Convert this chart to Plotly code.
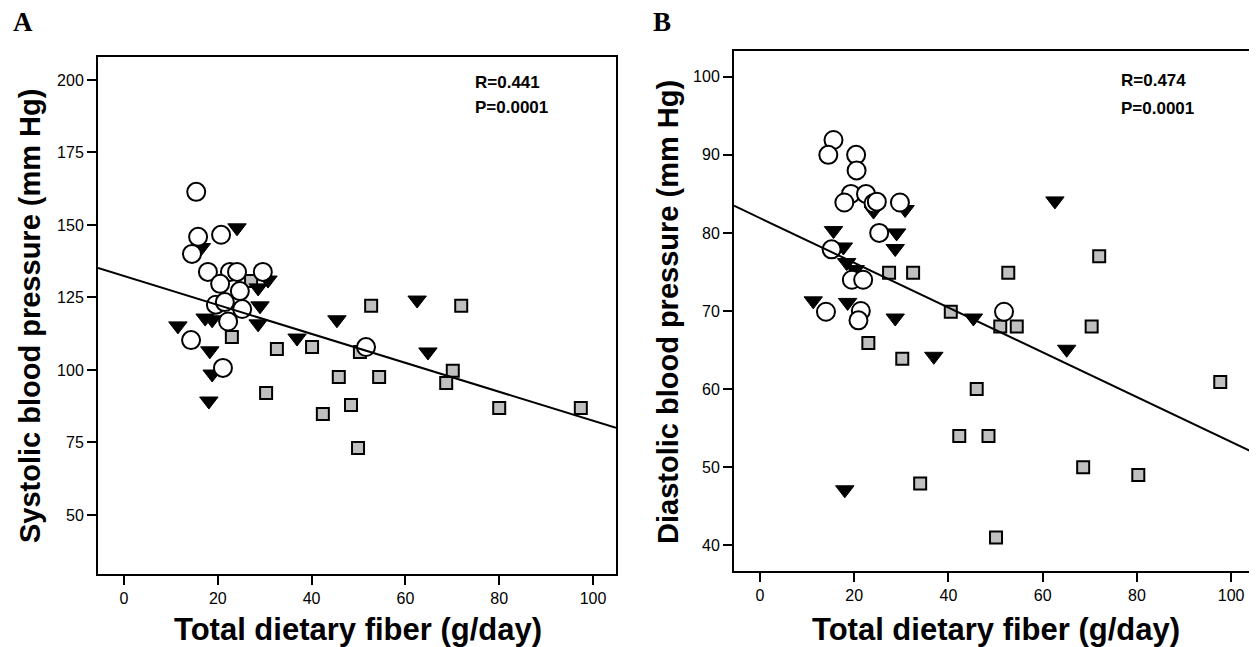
import plotly.graph_objects as go

# ---------------- data ----------------
# Panel A: systolic BP vs total dietary fiber
circles_A_x = [15.4, 15.8, 20.7, 14.5, 17.9, 22.6, 24.1, 29.6, 20.5, 24.7, 19.6, 21.5, 25.2, 22.2, 14.3, 21.1, 51.6]
circles_A_y = [161.4, 145.9, 146.6, 140.0, 133.8, 133.8, 133.8, 133.8, 129.7, 127.2, 122.5, 123.4, 121.0, 116.7, 110.3, 100.7, 107.9]
triangles_A_x = [24.1, 30.7, 28.6, 29.0, 28.6, 17.3, 18.8, 11.5, 18.3, 18.8, 18.1, 36.9, 45.4, 62.5, 64.8, 16.5]
triangles_A_y = [149.0, 131.0, 128.3, 122.1, 115.9, 117.9, 117.3, 115.2, 106.6, 98.6, 89.3, 111.0, 117.3, 124.1, 106.2, 142.2]
squares_A_x = [27.1, 23.0, 32.6, 40.1, 30.3, 52.7, 71.9, 50.3, 70.1, 68.7, 45.8, 54.4, 48.4, 42.4, 80.0, 97.4, 49.9]
squares_A_y = [130.7, 111.4, 107.2, 107.9, 92.1, 122.1, 122.1, 106.2, 99.7, 95.5, 97.6, 97.6, 87.9, 84.8, 86.9, 86.9, 73.1]
fit_A = {"intercept": 132.4, "slope": -0.499}

# Panel B: diastolic BP vs total dietary fiber
circles_B_x = [15.6, 14.5, 20.4, 20.5, 19.3, 22.5, 17.9, 24.1, 24.8, 29.7, 25.3, 15.2, 19.5, 21.9, 14.0, 21.4, 20.9, 51.8]
circles_B_y = [91.9, 90.0, 90.0, 88.0, 85.0, 85.0, 83.9, 83.8, 84.0, 83.9, 80.0, 77.9, 74.0, 74.0, 69.9, 70.0, 68.8, 69.9]
triangles_B_x = [24.1, 30.8, 15.6, 29.0, 28.7, 17.7, 18.4, 20.2, 11.3, 18.6, 28.7, 36.9, 18.0, 62.6, 45.3, 65.1]
triangles_B_y = [82.8, 83.0, 80.3, 80.0, 78.0, 78.2, 76.2, 75.3, 71.3, 71.1, 69.1, 64.2, 47.1, 84.1, 69.1, 65.1]
squares_B_x = [27.4, 32.5, 40.5, 23.0, 30.2, 34.0, 72.0, 52.7, 51.0, 54.5, 70.4, 97.7, 46.0, 42.3, 48.5, 68.6, 80.3, 50.1]
squares_B_y = [74.9, 74.9, 69.9, 65.9, 63.9, 47.9, 77.0, 74.9, 68.0, 68.0, 68.0, 60.9, 60.0, 54.0, 54.0, 50.0, 49.0, 41.0]
fit_B = {"intercept": 81.9, "slope": -0.2865}

x_ticks = [0, 20, 40, 60, 80, 100]
yA_ticks = [50, 75, 100, 125, 150, 175, 200]
yB_ticks = [40, 50, 60, 70, 80, 90, 100]
stats_A = ["R=0.441", "P=0.0001"]
stats_B = ["R=0.474", "P=0.0001"]
x_title = "Total dietary fiber (g/day)"
yA_title = "Systolic blood pressure (mm Hg)"
yB_title = "Diastolic blood pressure (mm Hg)"

# ---------------- layout helpers ----------------
OFF = 8  # page body margin
W, H = 1257 - OFF, 647 - OFF
def px_x(p):
    return (p - OFF) / W
def px_y(p):
    return 1 - (p - OFF) / H

xA_range = [-5.54, 104.9]
yA_range = [30.3, 207.9]
xB_range = [-5.52, 105.5]
yB_range = [36.7, 103.3]

fig = go.Figure()

def add_panel(xa, ya, cx, cy, tx, ty, sx, sy, fit, xr):
    fig.add_trace(go.Scatter(x=sx, y=sy, mode="markers", xaxis=xa, yaxis=ya,
                             marker=dict(symbol="square", size=12, color="#c0c0c0",
                                         line=dict(color="black", width=2)),
                             showlegend=False, hoverinfo="skip"))
    fig.add_trace(go.Scatter(x=tx, y=ty, mode="markers", xaxis=xa, yaxis=ya,
                             marker=dict(symbol="triangle-down", size=16, color="black",
                                         line=dict(color="black", width=1)),
                             showlegend=False, hoverinfo="skip"))
    fig.add_trace(go.Scatter(x=cx, y=cy, mode="markers", xaxis=xa, yaxis=ya,
                             marker=dict(symbol="circle", size=18, color="white",
                                         line=dict(color="black", width=2)),
                             showlegend=False, hoverinfo="skip"))
    lx = [xr[0], xr[1]]
    ly = [fit["intercept"] + fit["slope"] * v for v in lx]
    fig.add_trace(go.Scatter(x=lx, y=ly, mode="lines", xaxis=xa, yaxis=ya,
                             line=dict(color="black", width=2),
                             showlegend=False, hoverinfo="skip"))

add_panel("x", "y", circles_A_x, circles_A_y, triangles_A_x, triangles_A_y,
          squares_A_x, squares_A_y, fit_A, xA_range)
add_panel("x2", "y2", circles_B_x, circles_B_y, triangles_B_x, triangles_B_y,
          squares_B_x, squares_B_y, fit_B, xB_range)

tickfont = dict(family="Liberation Sans, Arial", size=16, color="black")
axis_common = dict(showline=True, linecolor="black", linewidth=2, ticks="outside",
                   ticklen=9, tickwidth=2, tickcolor="black", showgrid=False,
                   zeroline=False, tickfont=tickfont)

fig.update_layout(
    width=W, height=H,
    margin=dict(l=0, r=0, t=0, b=0),
    plot_bgcolor="white", paper_bgcolor="white",
    xaxis=dict(domain=[px_x(98), px_x(616)], range=xA_range, tickvals=x_ticks,
               mirror=True, anchor="y", **axis_common),
    yaxis=dict(domain=[px_y(574), px_y(57)], range=[50 - (574 - 515) / 2.9, 207.9],
               tickvals=yA_ticks, mirror=True, anchor="x", **axis_common),
    xaxis2=dict(domain=[px_x(734), 1.0], range=xB_range, tickvals=x_ticks,
                mirror=True, anchor="y2", **axis_common),
    yaxis2=dict(domain=[px_y(571), px_y(51)], range=yB_range, tickvals=yB_ticks,
                mirror=False, anchor="x2", **axis_common),
)

xt_font = dict(family="Liberation Sans, Arial", size=31, color="black")
yt_font = dict(family="Liberation Sans, Arial", size=29, color="black")
ann = []
# x titles
ann.append(dict(x=px_x(358), y=px_y(629), xref="paper", yref="paper", text="<b>%s</b>" % x_title,
                showarrow=False, font=xt_font, xanchor="center", yanchor="middle"))
ann.append(dict(x=px_x(996), y=px_y(629), xref="paper", yref="paper", text="<b>%s</b>" % x_title,
                showarrow=False, font=xt_font, xanchor="center", yanchor="middle"))
# y titles
ann.append(dict(x=px_x(30), y=px_y(316), xref="paper", yref="paper", text="<b>%s</b>" % yA_title,
                showarrow=False, font=yt_font, textangle=-90, xanchor="center", yanchor="middle"))
ann.append(dict(x=px_x(668), y=px_y(312), xref="paper", yref="paper", text="<b>%s</b>" % yB_title,
                showarrow=False, font=yt_font, textangle=-90, xanchor="center", yanchor="middle"))
# panel letters
letter_font = dict(family="Liberation Serif, Times New Roman", size=27, color="black")
ann.append(dict(x=px_x(11), y=px_y(22), xref="paper", yref="paper", text="<b>A</b>",
                showarrow=False, font=letter_font, xanchor="left", yanchor="middle"))
ann.append(dict(x=px_x(651), y=px_y(22), xref="paper", yref="paper", text="<b>B</b>",
                showarrow=False, font=letter_font, xanchor="left", yanchor="middle"))
# stats
stat_font = dict(family="Liberation Sans, Arial", size=17, color="black")
for i, t in enumerate(stats_A):
    ann.append(dict(x=px_x(473), y=px_y(82 + 25 * i), xref="paper", yref="paper",
                    text="<b>%s</b>" % t, showarrow=False, font=stat_font,
                    xanchor="left", yanchor="middle"))
for i, t in enumerate(stats_B):
    ann.append(dict(x=px_x(1119), y=px_y(81 + 27 * i), xref="paper", yref="paper",
                    text="<b>%s</b>" % t, showarrow=False, font=stat_font,
                    xanchor="left", yanchor="middle"))
fig.update_layout(annotations=ann)

fig.write_html("out.html")
